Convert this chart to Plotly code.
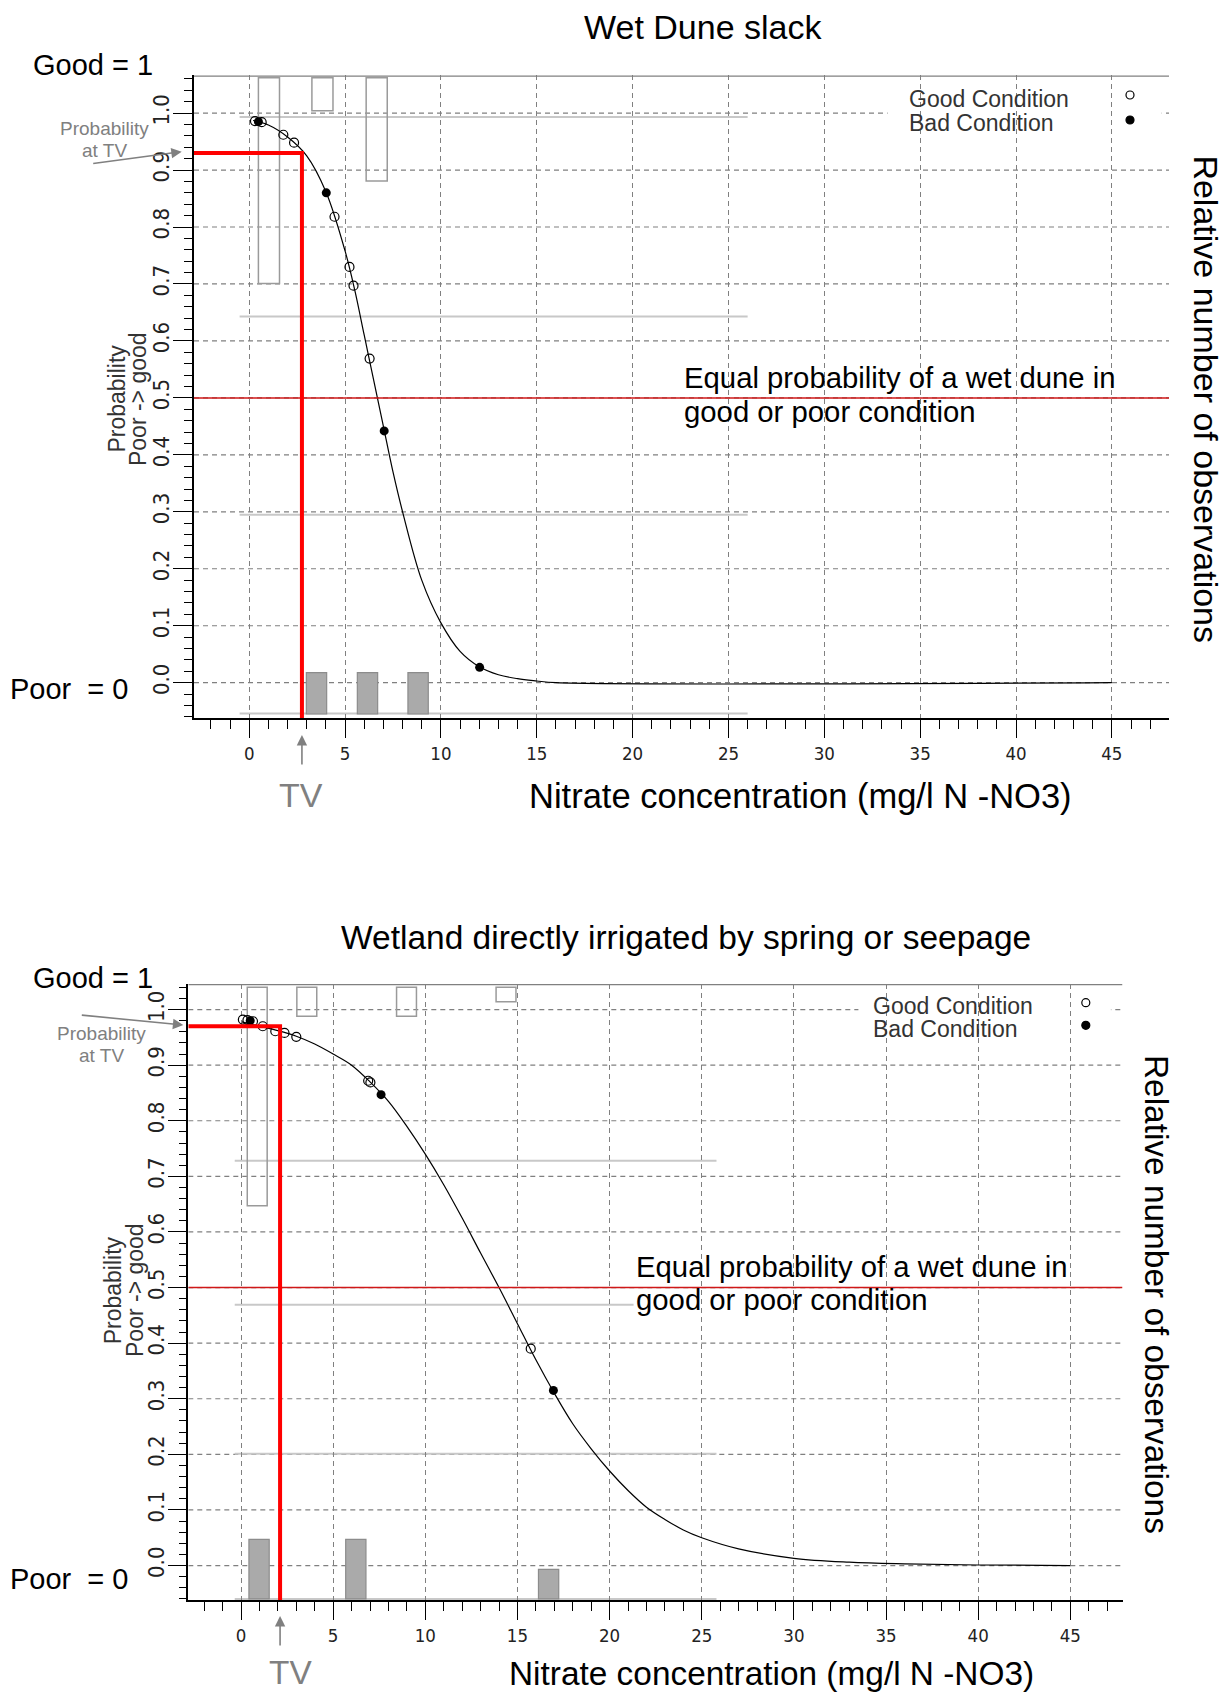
import plotly.graph_objects as go

# ---------------- data ----------------
# Top panel: Wet Dune slack
top_curve_x = [0.2, 1, 2, 3, 4, 5, 5.5, 6, 6.5, 7, 7.5, 8, 9, 10, 11, 12, 13, 14, 15, 16, 45]
top_curve_y = [0.987, 0.979, 0.958, 0.925, 0.862, 0.758, 0.69, 0.61, 0.53, 0.45, 0.37, 0.30,
               0.18, 0.105, 0.055, 0.028, 0.014, 0.007, 0.003, 0.0, 0.0]
top_good_x = [0.3, 0.65, 1.78, 2.34, 4.45, 5.23, 5.44, 6.28]
top_good_y = [0.986, 0.984, 0.962, 0.948, 0.818, 0.730, 0.697, 0.569]
top_bad_x = [0.48, 4.02, 7.04, 12.02]
top_bad_y = [0.985, 0.860, 0.442, 0.027]
top_hollow_x = [1.03, 3.82, 6.65]
top_hollow_bottom = [0.701, 1.004, 0.881]
top_filled_x = [3.51, 6.17, 8.81]
top_filled_top = [0.0175, 0.0175, 0.0175]
top_frame_y = [0.993, 0.643, 0.295, -0.054]
top_tv = 2.75
top_p_tv = 0.93

# Bottom panel: Wetland directly irrigated by spring or seepage
bot_curve_x = [0.05, 1, 2, 3, 4, 5, 6, 7, 8, 9, 10, 11, 12, 13, 14, 15, 16, 17, 18, 19, 20,
               21, 22, 23, 24, 25, 27, 30, 33, 36, 40, 45]
bot_curve_y = [0.978, 0.970, 0.962, 0.952, 0.938, 0.92, 0.90, 0.87, 0.835, 0.79, 0.74, 0.685,
               0.625, 0.562, 0.50, 0.435, 0.37, 0.31, 0.255, 0.21, 0.17, 0.135, 0.105, 0.083,
               0.064, 0.05, 0.03, 0.013, 0.006, 0.003, 0.001, 0.0]
bot_good_x = [0.1, 0.35, 0.65, 1.18, 1.86, 2.36, 3.0, 6.9, 7.02, 15.72]
bot_good_y = [0.982, 0.981, 0.979, 0.970, 0.961, 0.958, 0.951, 0.872, 0.869, 0.390]
bot_bad_x = [0.5, 7.6, 16.95]
bot_bad_y = [0.980, 0.847, 0.315]
bot_hollow_x = [0.88, 3.57, 8.98, 14.38]
bot_hollow_bottom = [0.647, 0.988, 0.988, 1.014]
bot_filled_x = [0.98, 6.23, 16.69]
bot_filled_top = [0.047, 0.047, -0.007]
bot_frame_y = [0.728, 0.469, 0.201, -0.06]
bot_tv = 2.12
bot_p_tv = 0.97

x_ticks = [0, 5, 10, 15, 20, 25, 30, 35, 40, 45]
y_ticks = [0.0, 0.1, 0.2, 0.3, 0.4, 0.5, 0.6, 0.7, 0.8, 0.9, 1.0]

# ---------------- styling ----------------
MAIN = "Liberation Sans, Arial, sans-serif"
NARROW = "Liberation Sans Narrow, Arial Narrow, DejaVu Sans Condensed, sans-serif"
GRID = "#808080"
GRAYTXT = "#808080"

panels = [
    dict(xa="x", ya="y", xr=[-2.88, 47.98], yr=[-0.062, 1.066],
         xdom=[0.15837, 0.95429], ydom=[0.57565, 0.95538],
         cx=top_curve_x, cy=top_curve_y, gx=top_good_x, gy=top_good_y,
         bx=top_bad_x, by=top_bad_y, hx=top_hollow_x, hb=top_hollow_bottom, htop=1.062, hw=1.1,
         fx=top_filled_x, ft=top_filled_top, fbase=-0.055, fw=1.06,
         frame=top_frame_y, frame_x=[-0.5, 26.0], frame_x_special=None,
         tv=top_tv, ptv=top_p_tv, legbox=[33.3, 47.6]),
    dict(xa="x2", ya="y2", xr=[-2.86, 47.83], yr=[-0.062, 1.046],
         xdom=[0.15371, 0.91633], ydom=[0.05437, 0.41844],
         cx=bot_curve_x, cy=bot_curve_y, gx=bot_good_x, gy=bot_good_y,
         bx=bot_bad_x, by=bot_bad_y, hx=bot_hollow_x, hb=bot_hollow_bottom, htop=1.04, hw=1.08,
         fx=bot_filled_x, ft=bot_filled_top, fbase=-0.06, fw=1.1,
         frame=bot_frame_y, frame_x=[-0.34, 25.8], frame_x_special=(1, 21.3),
         tv=bot_tv, ptv=bot_p_tv, legbox=[33.5, 47.2]),
]

fig = go.Figure()
shapes = []
for p in panels:
    xa, ya = p["xa"], p["ya"]
    fig.add_trace(go.Bar(x=p["hx"], y=[b - p["htop"] for b in p["hb"]], base=p["htop"], width=p["hw"],
                         marker=dict(color="rgba(0,0,0,0)", line=dict(color="#9a9a9a", width=1.5)),
                         xaxis=xa, yaxis=ya, showlegend=False, hoverinfo="skip"))
    fig.add_trace(go.Bar(x=p["fx"], y=[t - p["fbase"] for t in p["ft"]], base=p["fbase"], width=p["fw"],
                         marker=dict(color="#aaaaaa", line=dict(color="#8c8c8c", width=1.2)),
                         xaxis=xa, yaxis=ya, showlegend=False, hoverinfo="skip"))
    fig.add_trace(go.Scatter(x=p["cx"], y=p["cy"], mode="lines", line=dict(color="black", width=1.2, shape="spline"),
                             xaxis=xa, yaxis=ya, showlegend=False, hoverinfo="skip"))
    fig.add_trace(go.Scatter(x=p["gx"], y=p["gy"], mode="markers",
                             marker=dict(symbol="circle-open", size=9, color="black", line=dict(width=1.2)),
                             xaxis=xa, yaxis=ya, showlegend=False, hoverinfo="skip"))
    fig.add_trace(go.Scatter(x=p["bx"], y=p["by"], mode="markers",
                             marker=dict(symbol="circle", size=9, color="black"),
                             xaxis=xa, yaxis=ya, showlegend=False, hoverinfo="skip"))

    for yv in y_ticks:
        shapes.append(dict(type="line", xref=xa, yref=ya, x0=p["xr"][0], x1=p["xr"][1], y0=yv, y1=yv,
                           line=dict(color=GRID, width=1.2, dash="5px,4px"), layer="below"))
    shapes.append(dict(type="rect", xref=xa, yref=ya, x0=p["legbox"][0], x1=p["legbox"][1], y0=0.975, y1=1.025,
                       fillcolor="white", line=dict(width=0), layer="below"))
    for i, yv in enumerate(p["frame"]):
        x1 = p["frame_x"][1]
        if p["frame_x_special"] and p["frame_x_special"][0] == i:
            x1 = p["frame_x_special"][1]
        shapes.append(dict(type="line", xref=xa, yref=ya, x0=p["frame_x"][0], x1=x1, y0=yv, y1=yv,
                           line=dict(color="#c8c8c8", width=2), layer="below"))
    shapes.append(dict(type="line", xref=xa, yref=ya, x0=p["xr"][0], x1=p["xr"][1], y0=p["yr"][1], y1=p["yr"][1],
                       line=dict(color="#808080", width=2.5)))
    shapes.append(dict(type="line", xref=xa, yref=ya, x0=p["xr"][0], x1=p["xr"][1], y0=0.5, y1=0.5,
                       line=dict(color="#d01818", width=1.5)))
    shapes.append(dict(type="path", xref=xa, yref=ya,
                       path=f"M {p['xr'][0]},{p['ptv']} L {p['tv']},{p['ptv']} L {p['tv']},{p['yr'][0]}",
                       line=dict(color="#ff0000", width=4)))

xtickfont = dict(family=NARROW, size=18.5, color="#222222")
ytickfont = dict(family=NARROW, size=22, color="#222222")
for i, p in enumerate(panels):
    sfx = "" if i == 0 else "2"
    fig.update_layout(**{
        "xaxis" + sfx: dict(domain=p["xdom"], range=p["xr"], anchor="y" + sfx, tickvals=x_ticks,
                            ticks="outside", ticklen=18, tickwidth=1.3, tickcolor="black",
                            minor=dict(dtick=1, tick0=0, ticks="outside", ticklen=9, tickwidth=1.3,
                                       tickcolor="black", showgrid=False),
                            showgrid=True, gridcolor=GRID, gridwidth=1.2, griddash="5px,4px",
                            showline=True, linecolor="black", linewidth=1.5, zeroline=False,
                            tickfont=xtickfont, ticklabelstandoff=0, fixedrange=True),
        "yaxis" + sfx: dict(domain=p["ydom"], range=p["yr"], anchor="x" + sfx, tickvals=y_ticks,
                            tickformat=".1f", tickangle=-90,
                            ticks="outside", ticklen=19, tickwidth=1.3, tickcolor="black",
                            minor=dict(dtick=0.02, tick0=0, ticks="outside", ticklen=8, tickwidth=1.3,
                                       tickcolor="black", showgrid=False),
                            showgrid=False, showline=True, linecolor="black", linewidth=1.5,
                            zeroline=False, tickfont=ytickfont, ticklabelstandoff=-5, fixedrange=True),
    })

for (mx, my, fill) in [(0.92245, 0.94385, "white"), (0.92245, 0.92908, "black"),
                       (0.88637, 0.40739, "white"), (0.88637, 0.39403, "black")]:
    shapes.append(dict(type="circle", xref="paper", yref="paper", xsizemode="pixel", ysizemode="pixel",
                       xanchor=mx, yanchor=my, x0=-4, x1=4, y0=-4, y1=4,
                       fillcolor=fill, line=dict(color="black", width=1.2)))

ann = []
def txt(x, y, s, size, color="black", xanchor="center", angle=0, family=MAIN):
    ann.append(dict(x=x, y=y, xref="paper", yref="paper", text=s, showarrow=False, xanchor=xanchor,
                    yanchor="middle", textangle=angle, font=dict(family=family, size=size, color=color)))

# top panel texts
txt(0.5736, 0.98404, "Wet Dune slack", 34)
txt(0.07576, 0.9617, "Good = 1", 29)
txt(0.05714, 0.59303, "Poor\u00a0 = 0", 29)
txt(0.0849, 0.9238, "Probability", 19, GRAYTXT)
txt(0.0849, 0.9110, "at TV", 19, GRAYTXT)
txt(0.0952, 0.7642, "Probability", 23, "#333333", angle=-90)
txt(0.1127, 0.7642, "Poor -> good", 23, "#333333", angle=-90)
txt(0.5567, 0.77671, "Equal probability of a wet dune in", 29.3, xanchor="left")
txt(0.5567, 0.75697, "good or poor condition", 29.3, xanchor="left")
txt(0.6537, 0.52926, "Nitrate concentration (mg/l N -NO3)", 34.5)
txt(0.24588, 0.53014, "TV", 34, GRAYTXT)
txt(0.98416, 0.76418, "Relative number of observations", 34, angle=90)
txt(0.74016, 0.94131, "Good Condition", 23, "#333333", xanchor="left")
txt(0.74016, 0.92713, "Bad Condition", 23, "#333333", xanchor="left")

# bottom panel texts
txt(0.5603, 0.44568, "Wetland directly irrigated by spring or seepage", 33.5)
txt(0.07576, 0.42211, "Good = 1", 29)
txt(0.05714, 0.06678, "Poor\u00a0 = 0", 29)
txt(0.0830, 0.3889, "Probability", 19, GRAYTXT)
txt(0.0830, 0.3761, "at TV", 19, GRAYTXT)
txt(0.0925, 0.2376, "Probability", 23, "#333333", angle=-90)
txt(0.1102, 0.2376, "Poor -> good", 23, "#333333", angle=-90)
txt(0.5172, 0.25177, "Equal probability of a wet dune in", 29.3, xanchor="left")
txt(0.5172, 0.23198, "good or poor condition", 29.3, xanchor="left")
txt(0.63004, 0.01105, "Nitrate concentration (mg/l N -NO3)", 33.4)
txt(0.23739, 0.01164, "TV", 33.4, GRAYTXT)
txt(0.94449, 0.23522, "Relative number of observations", 33.4, angle=90)
txt(0.71102, 0.40544, "Good Condition", 23, "#333333", xanchor="left")
txt(0.71102, 0.39208, "Bad Condition", 23, "#333333", xanchor="left")

for (xr, x, y, ax, ay) in [("x", top_tv, 0.56560, 0, 31), ("x2", bot_tv, 0.04492, 0, 31)]:
    ann.append(dict(x=x, y=y, xref=xr, yref="paper", ax=ax, ay=ay, text="", showarrow=True,
                    arrowhead=2, arrowsize=1.3, arrowwidth=1.6, arrowcolor=GRAYTXT))
for (x, y, ax, ay) in [(0.14833, 0.91034, -90, 12), (0.14963, 0.39421, -103, -10)]:
    ann.append(dict(x=x, y=y, xref="paper", yref="paper", ax=ax, ay=ay, text="", showarrow=True,
                    arrowhead=2, arrowsize=1.3, arrowwidth=1.6, arrowcolor=GRAYTXT))

fig.update_layout(width=1225, height=1692, margin=dict(l=0, r=0, t=0, b=0),
                  paper_bgcolor="white", plot_bgcolor="white", barmode="overlay",
                  showlegend=False, hovermode=False, shapes=shapes, annotations=ann,
                  font=dict(family=MAIN))

fig.write_html("out.html", config={"displayModeBar": False},
               post_script="document.body.style.margin='0px';document.body.style.overflow='hidden';")
